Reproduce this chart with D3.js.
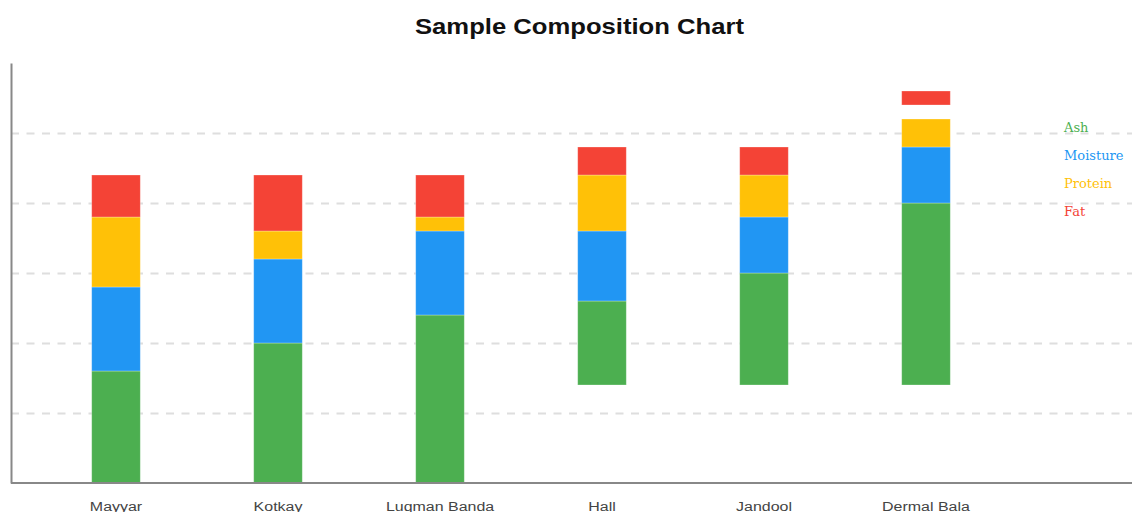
<!DOCTYPE html>
<html>
<head>
<meta charset="utf-8">
<script src="https://cdn.jsdelivr.net/npm/d3@7"></script>
<style>
  html, body { margin: 0; padding: 0; background: #fff; }
  svg { display: block; }
</style>
</head>
<body>
<svg id="chart" width="1132" height="512"></svg>
<script>
// Samples and their composition (stacked units)
const samples  = ["Mayyar", "Kotkay", "Luqman Banda", "Hall", "Jandool", "Dermal Bala"];
const offset   = [0, 0, 0, 7, 7, 7];      // where each column starts
const ash      = [8, 10, 12, 6, 8, 13];
const moisture = [6, 6, 6, 5, 4, 4];
const protein  = [5, 2, 1, 4, 3, 2];
const spacer   = [0, 0, 0, 0, 0, 1];      // empty space below the fat segment
const fat      = [3, 4, 3, 2, 2, 1];

const series = ["Ash", "Moisture", "Protein", "Fat"];
const colors = ["#4CAF50", "#2196F3", "#FFC107", "#F44336"];
const yMax = 30;
const gridTicks = [5, 10, 15, 20, 25];

const rows = samples.map((s, i) => ({
  sample: s,
  offset: offset[i],
  Ash: ash[i],
  Moisture: moisture[i],
  Protein: protein[i],
  spacer: spacer[i],
  Fat: fat[i]
}));

const svg = d3.select("#chart");
const plot = { left: 11, top: 63, bottom: 483, right: 1132 };

const x = d3.scaleBand()
  .domain(samples)
  .range([35, 1007])
  .paddingInner(0.7)
  .paddingOuter(0.35);

const y = d3.scaleLinear()
  .domain([0, yMax])
  .range([plot.bottom, plot.top]);

// Title (wide setting)
svg.append("text")
  .attr("x", 579.5)
  .attr("y", 34)
  .attr("text-anchor", "middle")
  .attr("font-family", "'Liberation Sans', Arial, sans-serif")
  .attr("font-weight", "bold")
  .attr("font-size", 22)
  .attr("fill", "#111")
  .attr("textLength", 329)
  .attr("lengthAdjust", "spacingAndGlyphs")
  .text("Sample Composition Chart");

// Dashed horizontal grid
svg.append("g")
  .selectAll("line")
  .data(gridTicks)
  .join("line")
  .attr("x1", plot.left)
  .attr("x2", plot.right)
  .attr("y1", d => Math.round(y(d)) + 0.5)
  .attr("y2", d => Math.round(y(d)) + 0.5)
  .attr("stroke", "#dedede")
  .attr("stroke-width", 2)
  .attr("stroke-dasharray", "8,7.5");

// Stacked columns
const stack = d3.stack()
  .keys(["offset", "Ash", "Moisture", "Protein", "spacer", "Fat"]);
const layers = stack(rows).filter(l => series.includes(l.key));

svg.append("g")
  .selectAll("g")
  .data(layers)
  .join("g")
  .attr("fill", l => colors[series.indexOf(l.key)])
  .selectAll("rect")
  .data(l => l)
  .join("rect")
  .attr("x", d => x(d.data.sample))
  .attr("width", x.bandwidth())
  .attr("y", d => y(d[1]))
  .attr("height", d => y(d[0]) - y(d[1]))
  .attr("stroke", "#fff")
  .attr("stroke-opacity", 0.35)
  .attr("stroke-width", 0.8);

// Axes
const xAxis = d3.axisBottom(x).tickSize(0).tickPadding(0);
const gx = svg.append("g")
  .attr("transform", `translate(0,${plot.bottom})`)
  .call(xAxis);
gx.select(".domain").remove();
gx.selectAll("text")
  .attr("y", 27.5)
  .attr("dy", 0)
  .attr("font-family", "'Liberation Sans', Arial, sans-serif")
  .attr("font-size", 12)
  .attr("fill", "#444")
  .each(function () {
    // widen the category labels
    const w = this.getComputedTextLength();
    d3.select(this)
      .attr("textLength", w * 1.33)
      .attr("lengthAdjust", "spacingAndGlyphs");
  });

svg.append("line")
  .attr("x1", plot.left).attr("x2", plot.right)
  .attr("y1", plot.bottom).attr("y2", plot.bottom)
  .attr("stroke", "#888").attr("stroke-width", 2);

const yAxis = d3.axisLeft(y).tickValues([]).tickSizeOuter(0);
const gy = svg.append("g")
  .attr("transform", `translate(${plot.left},0)`)
  .call(yAxis);
gy.select(".domain")
  .attr("stroke", "#888")
  .attr("stroke-width", 2);

// Legend (colored labels)
svg.append("g")
  .selectAll("text")
  .data(series)
  .join("text")
  .attr("x", 1064)
  .attr("y", (d, i) => 132 + i * 28)
  .attr("font-family", "'DejaVu Serif', serif")
  .attr("font-size", 13)
  .attr("fill", (d, i) => colors[i])
  .text(d => d);
</script>
</body>
</html>
